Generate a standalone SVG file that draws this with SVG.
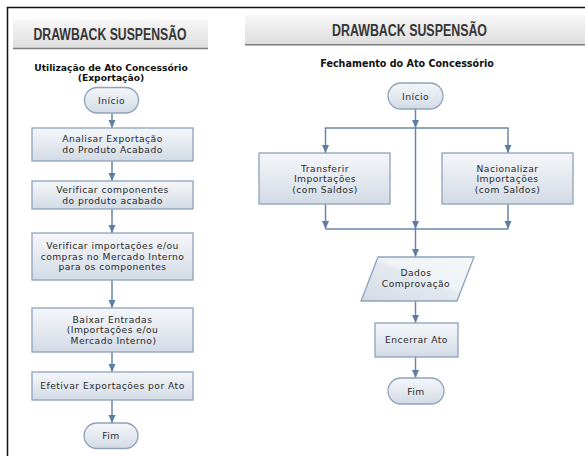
<svg xmlns="http://www.w3.org/2000/svg" width="585" height="456" viewBox="0 0 585 456">
<defs>
<linearGradient id="gBox" x1="0" y1="0" x2="0" y2="1">
<stop offset="0" stop-color="#f4f6f9"/>
<stop offset="0.55" stop-color="#e3e8ef"/>
<stop offset="1" stop-color="#d1dae5"/>
</linearGradient>
<linearGradient id="gPara" x1="0" y1="1" x2="1" y2="0">
<stop offset="0" stop-color="#d2dbe6"/>
<stop offset="0.5" stop-color="#e4e9f0"/>
<stop offset="0.56" stop-color="#eff2f6"/>
<stop offset="1" stop-color="#f5f7f9"/>
</linearGradient>
<linearGradient id="gHead" x1="0" y1="0" x2="0" y2="1">
<stop offset="0" stop-color="#f8f8f8"/>
<stop offset="1" stop-color="#dddddd"/>
</linearGradient>
<marker id="arr" markerUnits="userSpaceOnUse" markerWidth="10" markerHeight="8" refX="8" refY="3.5" orient="auto">
<path d="M0,0 L8,3.5 L0,7 Z" fill="#5f7ca2"/>
</marker>
<style>
.frame{fill:none;stroke:#111;stroke-width:1.5}
.head{fill:url(#gHead)}
.headline{stroke:#7e7e7e;stroke-width:1.5}
.htxt{font-family:"Liberation Sans Narrow","Liberation Sans",Arial,sans-serif;font-weight:bold;font-size:16px;fill:#363636;text-anchor:middle}
.sub{font-family:"DejaVu Sans",Verdana,sans-serif;font-weight:bold;font-size:9.2px;fill:#111;text-anchor:middle}
.box{fill:url(#gBox);stroke:#8fa2bc;stroke-width:1.3}
.para{fill:url(#gPara);stroke:#8fa2bc;stroke-width:1.3}
.t{font-family:"DejaVu Sans",Verdana,sans-serif;font-size:9.2px;fill:#2a2a2a;text-anchor:middle;letter-spacing:0.45px}
.c{fill:none;stroke:#6a86aa;stroke-width:1.5}
.a{marker-end:url(#arr)}
</style>
</defs>
<rect width="585" height="456" fill="#fff"/>
<path class="frame" d="M7.5,456 V7.5 H585"/>

<g id="header-left">
<rect class="head" x="13" y="19" width="195" height="29"/>
<line class="headline" x1="13" y1="48.5" x2="208" y2="48.5"/>
<text class="htxt" x="110" y="40" textLength="153" lengthAdjust="spacingAndGlyphs">DRAWBACK SUSPENSÃO</text>
</g>
<g id="header-right">
<rect class="head" x="245" y="15" width="340" height="29.5"/>
<line class="headline" x1="245" y1="44.8" x2="585" y2="44.8"/>
<text class="htxt" x="409.5" y="36" textLength="155" lengthAdjust="spacingAndGlyphs">DRAWBACK SUSPENSÃO</text>
</g>

<g id="title-left">
<text class="sub" x="111" y="70.5">Utilização de Ato Concessório</text>
<text class="sub" x="111" y="80.5">(Exportação)</text>
</g>
<g id="title-right">
<text class="sub" x="407" y="66.5" style="font-size:9.6px">Fechamento do Ato Concessório</text>
</g>

<g id="connectors">
<path class="c a" d="M112,113 V128"/>
<path class="c a" d="M112,161 V181"/>
<path class="c a" d="M112,209 V233"/>
<path class="c a" d="M112,280 V308"/>
<path class="c a" d="M112,352 V372"/>
<path class="c a" d="M112,400 V423"/>

<path class="c a" d="M415.5,109 V128"/>
<path class="c a" d="M415.5,128 H325.5 V153"/>
<path class="c a" d="M415.5,128 H508 V153"/>
<path class="c a" d="M415.5,128 V229"/>
<path class="c a" d="M325.5,204 V229"/>
<path class="c a" d="M508,204 V229"/>
<path class="c" d="M325.5,229 H508"/>
<path class="c a" d="M415.5,229 V257"/>
<path class="c a" d="M415.5,301 V323"/>
<path class="c a" d="M415.5,357 V378"/>
</g>

<g id="inicio-left">
<rect class="box" x="84.5" y="87.5" width="54" height="25.5" rx="12.75"/>
<text class="t" x="111.5" y="103.5">Início</text>
</g>
<g id="analisar">
<rect class="box" x="32" y="128" width="161" height="33"/>
<text class="t" x="112.5" y="142">Analisar Exportação</text>
<text class="t" x="112.5" y="152.5">do Produto Acabado</text>
</g>
<g id="verificar-componentes">
<rect class="box" x="32" y="181" width="161" height="28"/>
<text class="t" x="112.5" y="193">Verificar componentes</text>
<text class="t" x="112.5" y="203.5">do produto acabado</text>
</g>
<g id="verificar-importacoes">
<rect class="box" x="32" y="233" width="161" height="47"/>
<text class="t" x="112.5" y="249.3">Verificar importações e/ou</text>
<text class="t" x="112.5" y="259.8">compras no Mercado Interno</text>
<text class="t" x="112.5" y="270.3">para os componentes</text>
</g>
<g id="baixar">
<rect class="box" x="32" y="308" width="161" height="44"/>
<text class="t" x="112.5" y="322.5">Baixar Entradas</text>
<text class="t" x="112.5" y="333">(Importações e/ou</text>
<text class="t" x="113.5" y="343.5">Mercado Interno)</text>
</g>
<g id="efetivar">
<rect class="box" x="32" y="372" width="161" height="28"/>
<text class="t" x="112.5" y="389.3">Efetivar Exportações por Ato</text>
</g>
<g id="fim-left">
<rect class="box" x="84" y="423" width="54" height="25.5" rx="12.75"/>
<text class="t" x="111" y="439">Fim</text>
</g>

<g id="inicio-right">
<rect class="box" x="388" y="83" width="55" height="26" rx="13"/>
<text class="t" x="415.5" y="99.5">Início</text>
</g>
<g id="transferir">
<rect class="box" x="259" y="153" width="131" height="51"/>
<text class="t" x="325" y="171.5">Transferir</text>
<text class="t" x="325" y="182">Importações</text>
<text class="t" x="325" y="192.5">(com Saldos)</text>
</g>
<g id="nacionalizar">
<rect class="box" x="442" y="153" width="131" height="51"/>
<text class="t" x="507.5" y="171.5">Nacionalizar</text>
<text class="t" x="507.5" y="182">Importações</text>
<text class="t" x="507.5" y="192.5">(com Saldos)</text>
</g>
<g id="dados">
<polygon class="para" points="378,257 474,257 457,301 361,301"/>
<text class="t" x="416" y="276">Dados</text>
<text class="t" x="416" y="286.5">Comprovação</text>
</g>
<g id="encerrar">
<rect class="box" x="375" y="323" width="83" height="34"/>
<text class="t" x="416.5" y="343">Encerrar Ato</text>
</g>
<g id="fim-right">
<rect class="box" x="388" y="378" width="56" height="26" rx="13"/>
<text class="t" x="416" y="394.5">Fim</text>
</g>
</svg>
